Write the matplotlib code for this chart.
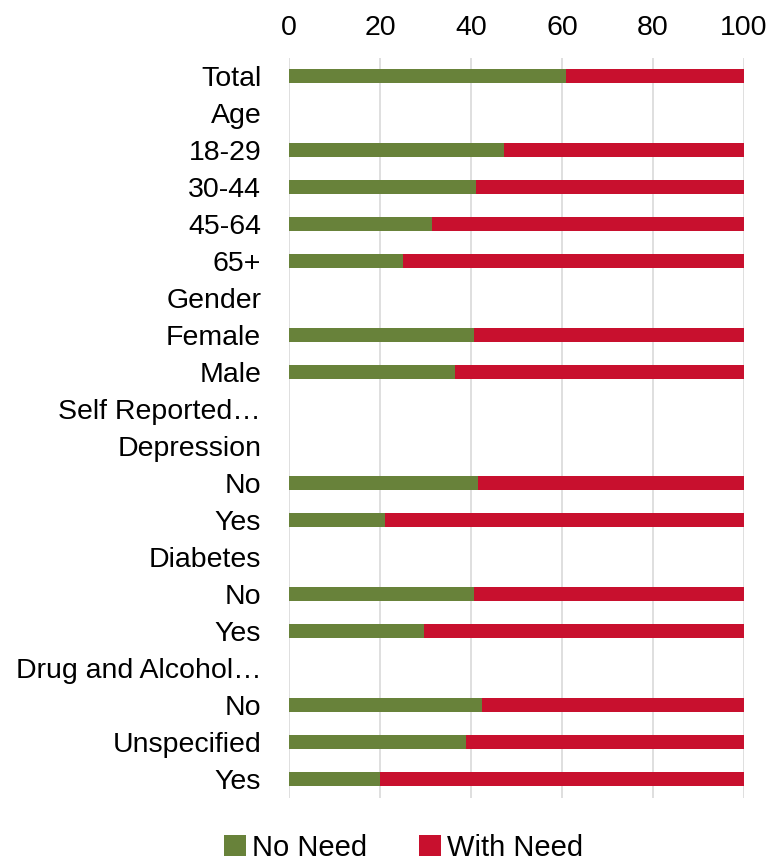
import numpy as np
import matplotlib
matplotlib.use("Agg")
import matplotlib.pyplot as plt

plt.rcParams['font.family'] = ['Liberation Sans', 'DejaVu Sans']

categories = ["Total", "Age", "18-29", "30-44", "45-64", "65+", "Gender",
              "Female", "Male", "Self Reported\u2026", "Depression", "No", "Yes",
              "Diabetes", "No", "Yes", "Drug and Alcohol\u2026", "No",
              "Unspecified", "Yes"]
no_need = [60.8, 0, 47.3, 41.2, 31.5, 25.1, 0, 40.7, 36.4, 0, 0, 41.6, 21.1,
           0, 40.7, 29.6, 0, 42.5, 38.9, 20.1]
has_value = [True, False, True, True, True, True, False, True, True, False,
             False, True, True, False, True, True, False, True, True, True]
with_need = [100 - v if h else 0 for v, h in zip(no_need, has_value)]

green = "#68823A"
red = "#C8102E"

fig = plt.figure(figsize=(7.76, 8.65), dpi=100)
ax = fig.add_axes([0.3724, 0.078, 0.5864, 0.8555])

y = np.arange(len(categories))
ax.barh(y, no_need, height=0.4, color=green, label="No Need", zorder=3)
ax.barh(y, with_need, left=no_need, height=0.4, color=red, label="With Need", zorder=3)

ax.set_xlim(0, 100)
ax.set_ylim(len(categories) - 0.5, -0.5)
ax.set_yticks(y)
ax.set_yticklabels(categories, fontsize=20.5)
ax.set_xticks([0, 20, 40, 60, 80, 100])
ax.xaxis.tick_top()
ax.tick_params(axis='x', labelsize=20.5, length=0, pad=12)
ax.tick_params(axis='y', length=0, pad=20)
ax.grid(axis='x', color='#D9D9D9', linewidth=1.2, zorder=0)
for s in ax.spines.values():
    s.set_visible(False)

fig.legend(loc='center', bbox_to_anchor=(0.52, 0.02), ncol=2, frameon=False,
           fontsize=21, handlelength=0.75, handleheight=0.75, handletextpad=0.2,
           columnspacing=1.8, borderpad=0.1)

fig.savefig("out.png", dpi=100)
